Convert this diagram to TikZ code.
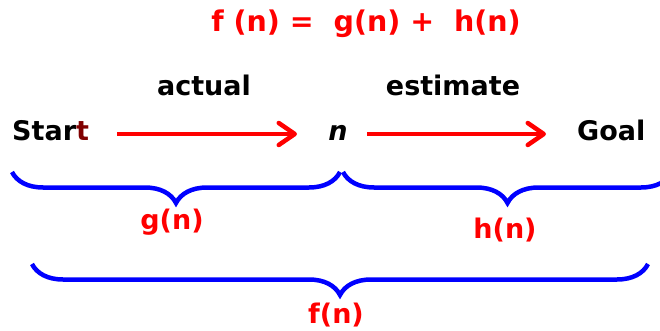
\documentclass[tikz,border=0pt]{standalone}
\usepackage{fontspec}
\setmainfont{DejaVu Sans}
\usetikzlibrary{arrows.meta,decorations.pathreplacing}
\definecolor{myred}{RGB}{255,0,0}
\definecolor{myblue}{RGB}{0,0,255}
\definecolor{darkt}{RGB}{128,0,0}
\tikzset{
  lbl/.style={font=\bfseries\fontsize{27}{32}\selectfont, inner sep=0pt, anchor=center},
  redlbl/.style={lbl, text=myred},
  arr/.style={draw=myred, line width=4.5pt, -{Straight Barb[length=16pt,width=22pt,round]}},
  brc/.style={draw=myblue, line width=4.5pt, decorate, decoration={brace, mirror, amplitude=31pt}},
}
\begin{document}
\begin{tikzpicture}[x=1pt,y=-1pt]
\useasboundingbox (0,0) rectangle (660,331);
\clip (0,0) rectangle (660,331);
\node[redlbl, font=\bfseries\fontsize{28.5}{32}\selectfont] (title) at (366,24) {f (n) =\ \ g(n) +\ \ h(n)};
\node[lbl] (actual) at (204,85) {actual};
\node[lbl] (estimate) at (453,85) {estimate};
\node[lbl, anchor=base west] (start) at (12,141) {Star\textcolor{darkt}{t}};
\node[lbl, anchor=base] (n) at (338,141) {\itshape n};
\node[lbl, anchor=base west] (goal) at (577,141) {Goal};
\coordinate (a1s) at (117,134);
\coordinate (a1e) at (297,134);
\coordinate (a2s) at (367,134);
\coordinate (a2e) at (546,134);
\draw[arr] (a1s) -- (a1e);
\draw[arr] (a2s) -- (a2e);
\coordinate (b1l) at (12,172);
\coordinate (b1r) at (340,172);
\coordinate (b2l) at (343,172);
\coordinate (b2r) at (672,172);
\coordinate (b3l) at (32,264);
\coordinate (b3r) at (648,264);
\draw[brc] (b1l) -- (b1r);
\draw[brc] (b2l) -- (b2r);
\draw[brc] (b3l) -- (b3r);
\node[redlbl] (g) at (172,222) {g(n)};
\node[redlbl] (h) at (505,230) {h(n)};
\node[redlbl] (f) at (336,315) {f(n)};
\end{tikzpicture}
\end{document}
